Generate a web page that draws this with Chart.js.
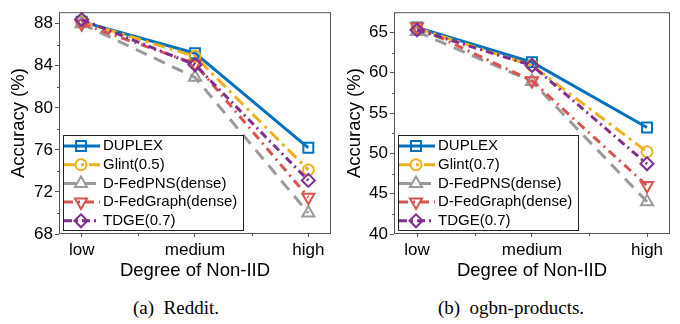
<!DOCTYPE html>
<html>
<head>
<meta charset="utf-8">
<script src="https://cdn.jsdelivr.net/npm/chart.js@4.4.1/dist/chart.umd.min.js"></script>
<style>
    body { margin: 0; background: #fff; width: 680px; height: 324px; position: relative; overflow: hidden; }
    .panel { position: absolute; top: 0; width: 340px; height: 285px; }
    .caption { position: absolute; top: 297px; font-family: "Liberation Serif", serif; font-size: 19px; white-space: pre; transform: translateX(-50%); color: #000; }
</style>
</head>
<body>
<div class="panel" style="left:0"><canvas id="reddit" width="340" height="285"></canvas></div>
<div class="panel" style="left:340px"><canvas id="products" width="340" height="285"></canvas></div>
<div class="caption" style="left:176px">(a)  Reddit.</div>
<div class="caption" style="left:511px">(b)  ogbn-products.</div>
<script>
const levels = ['low', 'medium', 'high'];

const redditNames = ['DUPLEX', 'Glint(0.5)', 'D-FedPNS(dense)', 'D-FedGraph(dense)', 'TDGE(0.7)'];
const redditDuplex = [88.2, 85.2, 76.2];
const redditGlint = [88.2, 84.9, 74.1];
const redditPNS = [88.0, 82.9, 70.0];
const redditFedGraph = [88.0, 84.2, 71.5];
const redditTDGE = [88.4, 84.1, 73.1];
const redditTicks = [68, 72, 76, 80, 84, 88];

const productsNames = ['DUPLEX', 'Glint(0.7)', 'D-FedPNS(dense)', 'D-FedGraph(dense)', 'TDGE(0.7)'];
const productsDuplex = [65.6, 61.3, 53.2];
const productsGlint = [65.5, 60.9, 50.2];
const productsPNS = [65.1, 58.9, 44.0];
const productsFedGraph = [65.7, 59.0, 46.0];
const productsTDGE = [65.3, 60.9, 48.7];
const productsTicks = [40, 45, 50, 55, 60, 65];

const looks = [
    { color: '#0072BD', dash: [], style: 'rect', radius: 7, rotation: 0 },
    { color: '#EDB120', dash: [12, 5, 3, 5], style: 'circle', radius: 5.5, rotation: 0 },
    { color: '#9A9A9A', dash: [12, 8], style: 'triangle', radius: 7, rotation: 0 },
    { color: '#D9534F', dash: [9, 5, 2, 5], style: 'triangle', radius: 7, rotation: 180 },
    { color: '#7E2F8E', dash: [8, 4, 2, 4], style: 'rectRot', radius: 6.5, rotation: 0 }
];

const FONT = 'Liberation Sans';
const AXIS = '#555';
Chart.defaults.font.family = FONT;

const framePlugin = {
    id: 'frame',
    afterDatasetsDraw(chart) {
        const { ctx, chartArea: a, scales: { x, y } } = chart;
        ctx.save();
        ctx.strokeStyle = AXIS;
        ctx.lineWidth = 1;
        ctx.setLineDash([]);
        ctx.strokeRect(a.left + 0.5, a.top + 0.5, a.right - a.left - 1, a.bottom - a.top - 1);
        // minor ticks halfway between the major ones
        ctx.beginPath();
        for (let i = 0; i < levels.length - 1; i++) {
            const px = Math.round(x.getPixelForValue(i + 0.5)) + 0.5;
            ctx.moveTo(px, a.bottom);
            ctx.lineTo(px, a.bottom + 2);
        }
        const t = y.ticks.map(k => k.value);
        for (let i = 0; i < t.length - 1; i++) {
            const py = Math.round(y.getPixelForValue((t[i] + t[i + 1]) / 2)) + 0.5;
            ctx.moveTo(a.left, py);
            ctx.lineTo(a.left - 2, py);
        }
        ctx.stroke();
        ctx.restore();
    }
};

const legendPlugin = {
    id: 'boxLegend',
    afterDraw(chart) {
        const { ctx, chartArea: a } = chart;
        const names = chart.data.datasets.map(d => d.label);
        const bx = a.left + 4, bw = 180, bh = 95;
        const by = a.bottom - 4 - bh;
        ctx.save();
        ctx.fillStyle = '#fff';
        ctx.fillRect(bx, by, bw, bh);
        ctx.strokeStyle = '#222';
        ctx.lineWidth = 1;
        ctx.strokeRect(bx + 0.5, by + 0.5, bw, bh);
        names.forEach((name, i) => {
            const lk = looks[i];
            const cy = by + 11 + i * 18.7;
            ctx.strokeStyle = lk.color;
            ctx.lineWidth = 3;
            ctx.setLineDash(lk.dash);
            ctx.beginPath();
            ctx.moveTo(bx + 1, cy);
            ctx.lineTo(bx + 37, cy);
            ctx.stroke();
            ctx.setLineDash([]);
            ctx.lineWidth = 2;
            ctx.fillStyle = 'rgba(0,0,0,0)';
            Chart.helpers.drawPoint(ctx, { pointStyle: lk.style, rotation: lk.rotation, radius: lk.radius, borderWidth: 2 }, bx + 18, cy);
            ctx.fillStyle = '#000';
            ctx.font = '15px "' + FONT + '"';
            ctx.textBaseline = 'middle';
            ctx.textAlign = 'left';
            ctx.fillText(name, bx + 40, cy);
        });
        ctx.restore();
    }
};

function makeChart(id, names, series, tickVals, yMin, yMax, axisWidth, titlePad, rightPad) {
    const datasets = series.map((values, i) => ({
        label: names[i],
        data: values.map((v, k) => ({ x: k, y: v })),
        borderColor: looks[i].color,
        borderWidth: 3,
        borderDash: looks[i].dash,
        pointStyle: looks[i].style,
        pointRotation: looks[i].rotation,
        pointRadius: looks[i].radius,
        pointBorderWidth: 2,
        pointBorderColor: looks[i].color,
        pointBackgroundColor: 'rgba(0,0,0,0)',
        tension: 0,
        order: series.length - 1 - i,
        clip: false
    }));

    return new Chart(document.getElementById(id), {
        type: 'line',
        data: { datasets },
        options: {
            responsive: false,
            animation: false,
            layout: { padding: { top: 2, right: rightPad, left: 0, bottom: 0 } },
            plugins: { legend: { display: false }, tooltip: { enabled: false } },
            scales: {
                x: {
                    type: 'linear',
                    min: -0.2,
                    max: 2.2,
                    afterBuildTicks: s => { s.ticks = levels.map((_, k) => ({ value: k })); },
                    afterFit: s => { s.height = 51; },
                    ticks: {
                        callback: v => levels[v],
                        font: { size: 17 },
                        color: '#000',
                        padding: 3,
                        maxRotation: 0,
                        autoSkip: false
                    },
                    grid: { drawOnChartArea: false, drawTicks: true, tickLength: 3, color: AXIS },
                    border: { display: false },
                    title: { display: true, text: 'Degree of Non-IID', font: { size: 18.5 }, color: '#000', padding: { top: 0, bottom: 3 } }
                },
                y: {
                    min: yMin,
                    max: yMax,
                    afterBuildTicks: s => { s.ticks = tickVals.map(v => ({ value: v })); },
                    afterFit: s => { s.width = axisWidth; },
                    ticks: { font: { size: 17 }, color: '#000', padding: 2 },
                    grid: { drawOnChartArea: false, drawTicks: true, tickLength: 4, color: AXIS },
                    border: { display: false },
                    title: { display: true, text: 'Accuracy (%)', font: { size: 18.5 }, color: '#000', padding: { top: titlePad, bottom: 0 } }
                }
            }
        },
        plugins: [framePlugin, legendPlugin]
    });
}

makeChart('reddit', redditNames,
    [redditDuplex, redditGlint, redditPNS, redditFedGraph, redditTDGE],
    redditTicks, 68, 89.1, 59, 8, 7);

makeChart('products', productsNames,
    [productsDuplex, productsGlint, productsPNS, productsFedGraph, productsTDGE],
    productsTicks, 40, 67.5, 54, 4, 10);
</script>
</body>
</html>
